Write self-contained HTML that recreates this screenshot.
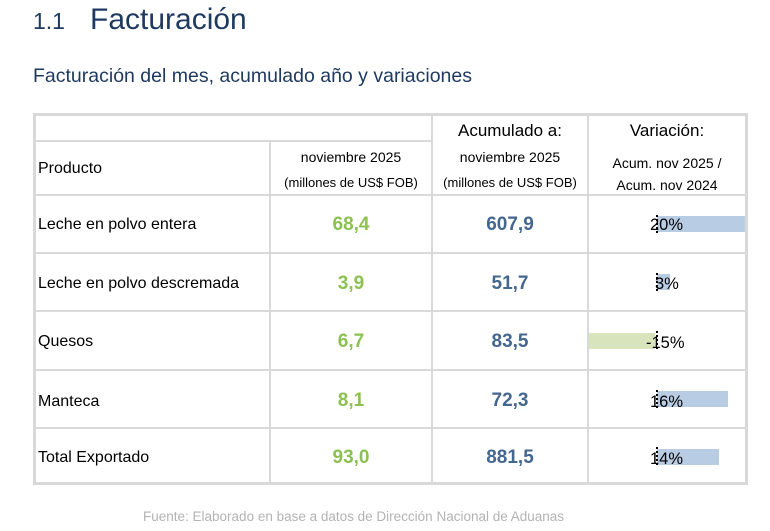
<!DOCTYPE html>
<html><head><meta charset="utf-8"><style>
body{margin:0;width:770px;height:531px;background:#fff;position:relative;font-family:"Liberation Sans",sans-serif;overflow:hidden}
.a{position:absolute;white-space:nowrap}
.h{background:#d9d9d9;position:absolute}
.c{font-family:"Liberation Sans",sans-serif;color:#000}
.g{color:#8cc152;font-weight:bold;font-size:19px}
.b{color:#44678f;font-weight:bold;font-size:19px}
.bar{position:absolute;height:16px;background:#b8cce4}
.ax{position:absolute;left:656px;width:0;height:18px;border-left:2px dotted #000}
</style></head><body>
<div class="a" style="left:33px;top:3px;font-size:30px;color:#1f3a60"><span style="font-size:23px">1.1</span>&nbsp;&nbsp;&nbsp;Facturación</div>
<div class="a" style="left:33px;top:65px;font-size:19.5px;color:#1f3a60">Facturación del mes, acumulado año y variaciones</div>

<div class="h" style="left:33px;top:113px;width:715px;height:3px"></div>
<div class="h" style="left:33px;top:482px;width:715px;height:3px"></div>
<div class="h" style="left:33px;top:113px;width:3px;height:372px"></div>
<div class="h" style="left:745px;top:113px;width:3px;height:372px"></div>
<div class="h" style="left:33px;top:140px;width:399px;height:2px"></div>
<div class="h" style="left:269px;top:141px;width:2px;height:343px"></div>
<div class="h" style="left:431px;top:113px;width:2px;height:371px"></div>
<div class="h" style="left:587px;top:113px;width:2px;height:371px"></div>
<div class="h" style="left:33px;top:194px;width:715px;height:2px"></div>
<div class="h" style="left:33px;top:252px;width:715px;height:2px"></div>
<div class="h" style="left:33px;top:310px;width:715px;height:2px"></div>
<div class="h" style="left:33px;top:369px;width:715px;height:2px"></div>
<div class="h" style="left:33px;top:427px;width:715px;height:2px"></div>

<div class="a c" style="left:38px;top:160px;font-size:16px">Producto</div>
<div class="a c" style="left:271px;width:160px;text-align:center;top:149px;font-size:14px">noviembre 2025</div>
<div class="a c" style="left:271px;width:160px;text-align:center;top:175px;font-size:13px">(millones de US$ FOB)</div>
<div class="a c" style="left:433px;width:154px;text-align:center;top:121px;font-size:17px">Acumulado a:</div>
<div class="a c" style="left:433px;width:154px;text-align:center;top:149px;font-size:14px">noviembre 2025</div>
<div class="a c" style="left:433px;width:154px;text-align:center;top:175px;font-size:13px">(millones de US$ FOB)</div>
<div class="a c" style="left:589px;width:156px;text-align:center;top:121px;font-size:17px">Variación:</div>
<div class="a c" style="left:589px;width:156px;text-align:center;top:155px;font-size:14px">Acum. nov 2025 /</div>
<div class="a c" style="left:589px;width:156px;text-align:center;top:177px;font-size:14px">Acum. nov 2024</div>

<div class="a c" style="left:38px;top:216px;font-size:16px">Leche en polvo entera</div>
<div class="a c" style="left:38px;top:275px;font-size:16px">Leche en polvo descremada</div>
<div class="a c" style="left:38px;top:333px;font-size:16px">Quesos</div>
<div class="a c" style="left:38px;top:393px;font-size:16px">Manteca</div>
<div class="a c" style="left:38px;top:449px;font-size:16px">Total Exportado</div>

<div class="a g" style="left:271px;width:160px;text-align:center;top:214px">68,4</div>
<div class="a g" style="left:271px;width:160px;text-align:center;top:273px">3,9</div>
<div class="a g" style="left:271px;width:160px;text-align:center;top:331px">6,7</div>
<div class="a g" style="left:271px;width:160px;text-align:center;top:390px">8,1</div>
<div class="a g" style="left:271px;width:160px;text-align:center;top:447px">93,0</div>
<div class="a b" style="left:433px;width:154px;text-align:center;top:214px">607,9</div>
<div class="a b" style="left:433px;width:154px;text-align:center;top:273px">51,7</div>
<div class="a b" style="left:433px;width:154px;text-align:center;top:331px">83,5</div>
<div class="a b" style="left:433px;width:154px;text-align:center;top:390px">72,3</div>
<div class="a b" style="left:433px;width:154px;text-align:center;top:447px">881,5</div>

<div class="bar" style="left:657px;width:88px;top:216px"></div>
<div class="bar" style="left:657px;width:13px;top:274px"></div>
<div class="bar" style="left:589px;width:66px;top:333px;background:#d8e4bc"></div>
<div class="bar" style="left:657px;width:71px;top:391px"></div>
<div class="bar" style="left:657px;width:62px;top:449px"></div>
<div class="a c" style="left:650px;top:216px;font-size:16.5px">20%</div>
<div class="a c" style="left:655px;top:275px;font-size:16.5px">3%</div>
<div class="a c" style="left:646px;top:334px;font-size:16.5px">-15%</div>
<div class="a c" style="left:650px;top:393px;font-size:16.5px">16%</div>
<div class="a c" style="left:650px;top:450px;font-size:16.5px">14%</div>
<div class="ax" style="top:215px"></div>
<div class="ax" style="top:273px"></div>
<div class="ax" style="top:331px"></div>
<div class="ax" style="top:390px"></div>
<div class="ax" style="top:447px"></div>

<div class="a" style="left:143px;top:509px;font-size:13.5px;color:#b3b3b3">Fuente: Elaborado en base a datos de Dirección Nacional de Aduanas</div>
</body></html>
